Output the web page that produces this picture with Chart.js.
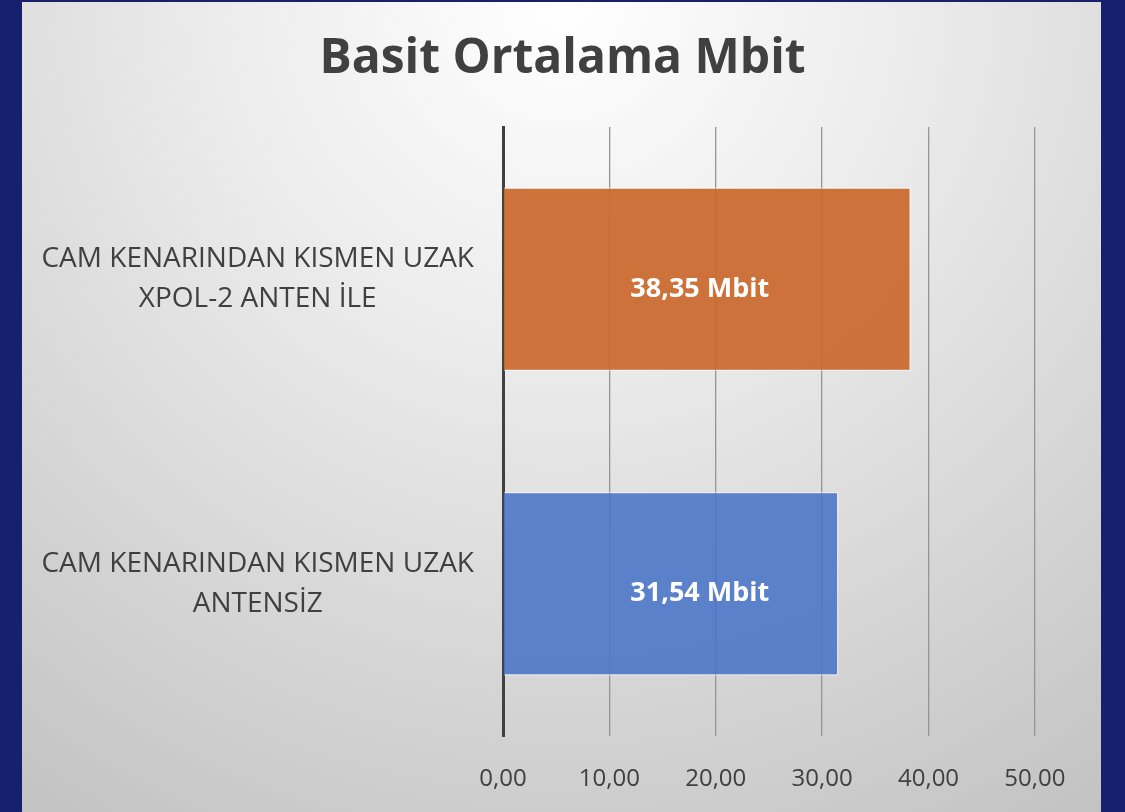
<!DOCTYPE html>
<html>
<head>
<meta charset="utf-8">
<title>Basit Ortalama Mbit</title>
<script src="https://cdn.jsdelivr.net/npm/chart.js@4.4.0/dist/chart.umd.min.js"></script>
<style>
    html, body { margin: 0; padding: 0; background: #17206d; }
    canvas { display: block; }
</style>
</head>
<body>
<canvas id="mbitChart" width="1125" height="812"></canvas>
<script>
// Chart data
const categories = [
    ['CAM KENARINDAN KISMEN UZAK', 'XPOL-2 ANTEN İLE'],
    ['CAM KENARINDAN KISMEN UZAK', 'ANTENSİZ']
];
const mbitValues = [38.35, 31.54];
const barColors = ['rgba(201, 104, 44, 0.93)', 'rgba(72, 116, 198, 0.88)'];
const xTicks = [0, 10, 20, 30, 40, 50];

const FONT = '"Open Sans", "DejaVu Sans", sans-serif';

function formatNumber(v) {
    return v.toFixed(2).replace('.', ',');
}

// Navy frame + grey gradient panel
const backgroundPlugin = {
    id: 'panelBackground',
    beforeDraw(chart) {
        const ctx = chart.ctx;
        ctx.save();
        ctx.fillStyle = '#17206d';
        ctx.fillRect(0, 0, chart.width, chart.height);
        const grad = ctx.createRadialGradient(562, 0, 0, 562, 0, 980);
        grad.addColorStop(0, '#ffffff');
        grad.addColorStop(0.35, '#ececec');
        grad.addColorStop(1, '#c2c2c2');
        ctx.fillStyle = grad;
        ctx.fillRect(22, 2, 1079, 810);
        ctx.restore();
    }
};

// Value labels inside the bars
const valueLabelPlugin = {
    id: 'valueLabels',
    afterDatasetsDraw(chart, args, opts) {
        const ctx = chart.ctx;
        const xScale = chart.scales.x;
        const meta = chart.getDatasetMeta(0);
        ctx.save();
        ctx.fillStyle = '#ffffff';
        ctx.font = 'bold 27px ' + FONT;
        ctx.textAlign = 'center';
        ctx.textBaseline = 'middle';
        meta.data.forEach((bar, i) => {
            const x = xScale.getPixelForValue(opts.anchorValue);
            ctx.fillText(formatNumber(mbitValues[i]) + ' Mbit', x, bar.y + opts.offsetY);
        });
        ctx.restore();
    }
};

const ctx = document.getElementById('mbitChart').getContext('2d');

new Chart(ctx, {
    type: 'bar',
    data: {
        labels: categories,
        datasets: [{
            label: 'Basit Ortalama Mbit',
            data: mbitValues,
            backgroundColor: barColors,
            borderColor: 'rgba(255, 255, 255, 0.45)',
            borderWidth: 1.5,
            barPercentage: 0.605,
            categoryPercentage: 1
        }]
    },
    options: {
        indexAxis: 'y',
        responsive: false,
        animation: false,
        layout: {
            padding: { left: 22, right: 22, top: 2, bottom: 0 }
        },
        plugins: {
            legend: { display: false },
            tooltip: { enabled: false },
            title: {
                display: true,
                text: 'Basit Ortalama Mbit',
                color: '#404040',
                font: { family: FONT, size: 48, weight: 'bold', lineHeight: 1.2 },
                padding: { top: 29, bottom: 38.4 }
            },
            valueLabels: { anchorValue: 18.5, offsetY: 10 }
        },
        scales: {
            x: {
                min: 0,
                max: 56.4,
                afterBuildTicks(scale) {
                    scale.ticks = xTicks.map(v => ({ value: v }));
                },
                afterFit(scale) {
                    scale.height = 76;
                },
                grid: {
                    color: '#959595',
                    lineWidth: 1.3,
                    drawTicks: false
                },
                border: { display: false },
                ticks: {
                    color: '#404040',
                    font: { family: FONT, size: 24 },
                    padding: 29,
                    callback: v => formatNumber(v)
                }
            },
            y: {
                afterFit(scale) {
                    scale.width = 481;
                },
                grid: { display: false, drawTicks: false },
                border: { display: true, color: '#404040', width: 3 },
                ticks: {
                    color: '#404040',
                    crossAlign: 'center',
                    padding: 29,
                    font: { family: FONT, size: 28, lineHeight: 40 / 28 }
                }
            }
        }
    },
    plugins: [backgroundPlugin, valueLabelPlugin]
});
</script>
</body>
</html>
